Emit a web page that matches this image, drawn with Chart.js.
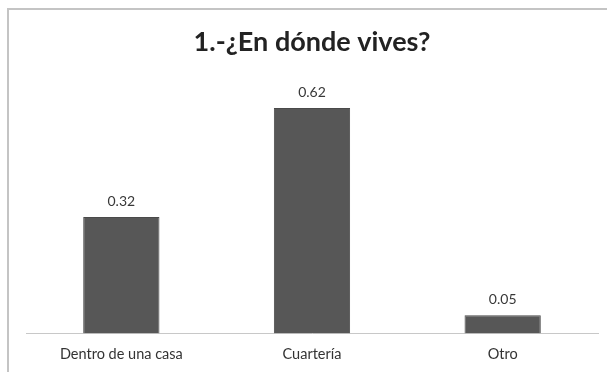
<!DOCTYPE html>
<html>
<head>
<meta charset="utf-8">
<script src="https://cdn.jsdelivr.net/npm/chart.js@4.4.0/dist/chart.umd.min.js"></script>
<style>
    html, body { margin: 0; padding: 0; background: #fff; overflow: hidden; }
    #frame {
        position: absolute; left: 7px; top: 8px; width: 640px; height: 400px;
        border-left: 2px solid #c4c4c4; border-top: 2px solid #c4c4c4;
    }
    #wrap { position: absolute; left: 0; top: 0; width: 607px; height: 372px; }
</style>
</head>
<body>
<div id="frame"></div>
<div id="wrap"><canvas id="chart"></canvas></div>
<script>
const categories = ["Dentro de una casa", "Cuartería", "Otro"];
const values = [0.32, 0.62, 0.05];
const chartTitle = "1.-¿En dónde vives?";

// value labels above each bar
const barLabels = {
    id: 'barLabels',
    afterDatasetsDraw(chart) {
        const ctx = chart.ctx;
        const meta = chart.getDatasetMeta(0);
        ctx.save();
        ctx.font = '14px Lato';
        ctx.fillStyle = '#383838';
        ctx.textAlign = 'center';
        ctx.textBaseline = 'middle';
        meta.data.forEach(function(bar, i) {
            ctx.fillText(values[i].toFixed(2), bar.x, bar.y - 16);
        });
        ctx.restore();
    }
};

new Chart(document.getElementById('chart'), {
    type: 'bar',
    data: {
        labels: categories,
        datasets: [{
            data: values,
            backgroundColor: '#575757',
            borderColor: '#4a4a4a',
            borderWidth: 1,
            barPercentage: 0.4,
            categoryPercentage: 1
        }]
    },
    options: {
        responsive: true,
        maintainAspectRatio: false,
        animation: false,
        layout: { padding: { top: 0, left: 26, right: 9, bottom: -4 } },
        plugins: {
            legend: { display: false },
            tooltip: { enabled: false },
            title: {
                display: true,
                text: chartTitle,
                color: '#222',
                font: { family: 'Lato', size: 27, weight: 'bold', lineHeight: 1.2 },
                padding: { top: 26, bottom: 20.5 }
            }
        },
        scales: {
            x: {
                grid: { display: false, drawTicks: false },
                border: { color: '#c8c8c8', width: 1 },
                ticks: { color: '#333', font: { family: 'Lato', size: 14.5, lineHeight: 1 }, padding: 14 }
            },
            y: { display: false, min: 0, max: 0.7 }
        }
    },
    plugins: [barLabels]
});
</script>
</body>
</html>
